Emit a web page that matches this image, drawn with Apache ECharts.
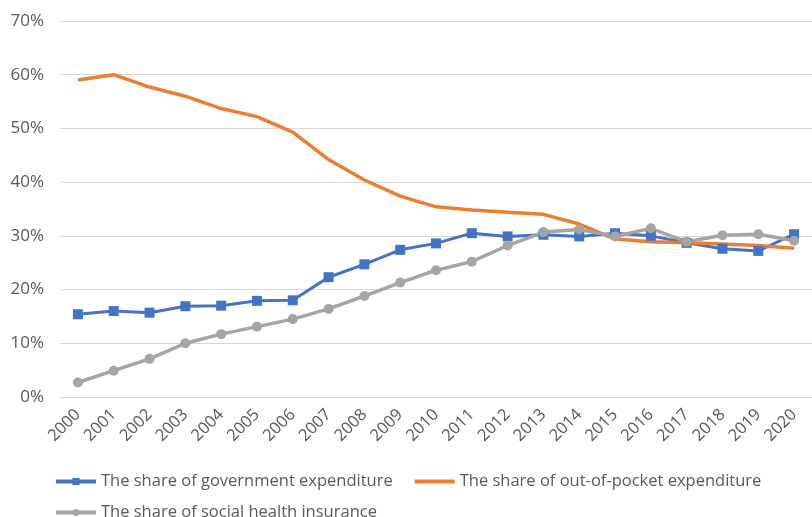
<!DOCTYPE html>
<html><head><meta charset="utf-8">
<script src="https://cdn.jsdelivr.net/npm/echarts@6/dist/echarts.min.js"></script>
<style>html,body{margin:0;padding:0;background:#fff}#c{width:812px;height:517px}</style>
</head><body><div id="c"></div>
<script>
var years = ['2000','2001','2002','2003','2004','2005','2006','2007','2008','2009','2010','2011','2012','2013','2014','2015','2016','2017','2018','2019','2020'];
var government = [15.4,16.0,15.7,16.9,17.0,17.9,18.0,22.3,24.7,27.4,28.6,30.5,29.9,30.2,29.9,30.5,30.0,28.7,27.6,27.2,30.3];
var outOfPocket = [59.0,60.0,57.7,56.0,53.7,52.2,49.3,44.2,40.4,37.4,35.4,34.8,34.4,34.0,32.2,29.4,28.9,28.7,28.5,28.2,27.7];
var socialInsurance = [2.7,4.9,7.1,10.0,11.7,13.1,14.5,16.4,18.8,21.3,23.6,25.2,28.2,30.7,31.2,29.9,31.4,28.9,30.1,30.3,29.1];
var seriesNames = ['The share of government expenditure','The share of out-of-pocket expenditure','The share of social health insurance'];

var chart = echarts.init(document.getElementById('c'));
var font = 'Open Sans, Liberation Sans, sans-serif';
var legendText = {color: '#595959', fontSize: 16.5, fontFamily: font};
chart.setOption({
  animation: false,
  textStyle: {fontFamily: font},
  grid: {left: 60, right: -6, top: 21, bottom: 120, containLabel: false},
  xAxis: {
    type: 'category', data: years, boundaryGap: true,
    axisLine: {show: true, lineStyle: {color: '#d9d9d9', width: 1}},
    axisTick: {show: false},
    axisLabel: {rotate: 45, color: '#595959', fontSize: 16.5, margin: 15, interval: 0, fontFamily: font}
  },
  yAxis: {
    type: 'value', min: 0, max: 70, interval: 10,
    axisLine: {show: false}, axisTick: {show: false},
    axisLabel: {formatter: '{value}%', color: '#595959', fontSize: 17, margin: 16, fontFamily: font},
    splitLine: {lineStyle: {color: '#d9d9d9', width: 1}}
  },
  legend: [
    {left: 49, top: 468, itemGap: 22, itemWidth: 40, itemHeight: 9,
     textStyle: legendText, lineStyle: {width: 4},
     data: [seriesNames[0], {name: seriesNames[1], icon: 'path://M0,0H40V4H0Z'}]},
    {left: 49, top: 499, itemWidth: 40, itemHeight: 9,
     textStyle: legendText, lineStyle: {width: 4},
     data: [seriesNames[2]]}
  ],
  series: [
    {name: seriesNames[0], type: 'line', data: government, symbol: 'rect', symbolSize: 10,
     lineStyle: {color: '#4472C4', width: 3}, itemStyle: {color: '#4472C4'}},
    {name: seriesNames[1], type: 'line', data: outOfPocket, symbol: 'none', showSymbol: false,
     lineStyle: {color: '#ED7D31', width: 3.5}, itemStyle: {color: '#ED7D31'}},
    {name: seriesNames[2], type: 'line', data: socialInsurance, symbol: 'circle', symbolSize: 10,
     lineStyle: {color: '#A5A5A5', width: 3.5}, itemStyle: {color: '#A5A5A5'}}
  ]
});
</script></body></html>
